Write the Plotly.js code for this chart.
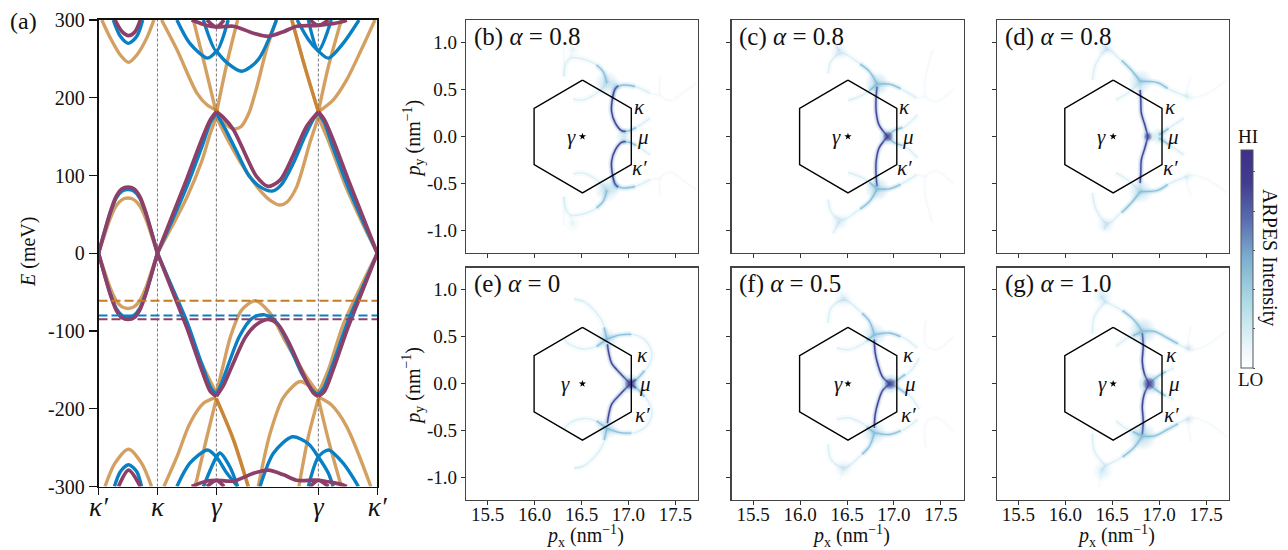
<!DOCTYPE html>
<html><head><meta charset="utf-8">
<script src="https://cdn.plot.ly/plotly-3.0.1.min.js"></script>
<style>html,body{margin:0;padding:0;background:#fff}</style></head>
<body><div id="g" style="width:1288px;height:550px"></div>
<script>
/* ---------- panel (a): band structure, [path position, E in meV] ---------- */
const pathTickVals=[0,1,2,3.73,4.73];
const pathTickText=["κ′","κ","γ","γ","κ′"];
const energyTickVals=[300,200,100,0,-100,-200,-300];
const energyTickText=["300","200","100","0","-100","-200","-300"];
const fermiTan=-61, fermiBlue=-80, fermiPurple=-85;

const tanUp1=[[0,0],[.1,23],[.2,45],[.3,61],[.4,69],[.5,71],[.6,69],[.7,61],[.8,45],[.9,23],[1,0]];
const tanUp2=[[1,0],[1.25,35],[1.5,72],[1.75,118],[1.9,155],[2,175]];
const tanUp3=[[2,175],[2.2,145],[2.4,118],[2.74,81],[2.95,66],[3.08,62],[3.2,66],[3.36,85],[3.59,143],[3.73,175]];
const tanUp4=[[3.73,175],[3.9,145],[4.2,85],[4.5,35],[4.73,0]];
const tanDn1=[[0,0],[.1,-23],[.2,-45],[.3,-61],[.4,-69],[.5,-71],[.6,-69],[.7,-61],[.8,-45],[.9,-23],[1,0]];
const tanDn2=[[1,0],[1.33,-60],[1.72,-137],[1.9,-165],[2,-180]];
const tanDn3=[[2,-180],[2.11,-146],[2.24,-107],[2.43,-73],[2.66,-61],[2.91,-77],[3.19,-116],[3.53,-159],[3.73,-180]];
const tanDn4=[[3.73,-180],[3.9,-150],[4.15,-92],[4.5,-35],[4.73,0]];
const tanHiA=[[.056,300],[.2,277],[.37,255],[.51,245.5],[.65,255],[.82,277],[.94,300]];
const tanHiB=[[1.07,300],[1.33,262],[1.67,206],[1.84,191],[2,184]];
const tanHiC=[[2,184],[2.12,170],[2.25,161],[2.33,160],[2.42,163],[2.55,180],[2.68,212],[2.85,262],[3.02,300]];
const tanHiD=[[1.61,300],[1.8,243],[2,180]];
const tanHiE=[[2,180],[2.18,245],[2.36,300]];
const tanHiF=[[3.28,300],[3.5,240],[3.73,182]];
const tanHiG=[[3.73,182],[3.9,240],[4.12,300]];
const tanHiH=[[3.73,182],[3.98,197],[4.21,223],[4.46,262],[4.69,300]];
const tanLoA=[[.11,-300],[.28,-270],[.51,-252],[.73,-270],[.9,-300]];
const tanLoB=[[1.11,-300],[1.33,-262],[1.55,-219],[1.78,-193],[2,-185]];
const tanLoC=[[1.64,-300],[1.84,-236],[2,-187]];
const tanLoD=[[2,-187],[2.29,-240],[2.54,-300]];
const tanLoE=[[2.71,-300],[2.91,-232],[3.14,-185],[3.42,-165],[3.59,-172],[3.73,-185]];
const tanLoF=[[3.4,-300],[3.56,-236],[3.73,-187]];
const tanLoG=[[3.73,-187],[3.9,-240],[4.12,-300]];
const tanLoH=[[3.73,-185],[3.95,-195],[4.21,-223],[4.62,-300]];

const blueUp1=[[0,0],[.1,27],[.2,52],[.3,71],[.4,80],[.5,82],[.6,80],[.7,71],[.8,52],[.9,27],[1,0]];
const blueUp2=[[1,0],[1.25,42],[1.5,86],[1.75,136],[1.9,168],[2,180]];
const blueUp3=[[2,180],[2.15,160],[2.35,130],[2.55,100],[2.75,85],[2.95,80],[3.1,88],[3.3,115],[3.5,150],[3.65,173],[3.73,180]];
const blueUp4=[[3.73,180],[3.83,168],[3.98,136],[4.23,86],[4.48,42],[4.73,0]];
const blueDn1=[[0,0],[.1,-27],[.2,-52],[.3,-71],[.4,-80],[.5,-82],[.6,-80],[.7,-71],[.8,-52],[.9,-27],[1,0]];
const blueDn2=[[1,0],[1.25,-44],[1.5,-88],[1.75,-142],[1.9,-172],[2,-182]];
const blueDn3=[[2,-182],[2.1,-165],[2.19,-146],[2.39,-107],[2.6,-84],[2.8,-79],[3,-87],[3.2,-113],[3.45,-155],[3.65,-178],[3.73,-182]];
const blueDn4=[[3.73,-182],[3.83,-172],[3.98,-142],[4.23,-88],[4.48,-44],[4.73,0]];
const blueHiA=[[.25,300],[.37,279],[.51,270],[.65,279],[.75,300]];
const blueHiB=[[1.33,300],[1.55,270],[1.85,251],[2,260]];
const blueHiC=[[2,260],[2.18,245],[2.43,234],[2.71,249],[3.02,300]];
const blueHiD=[[1.78,300],[2,260],[2.2,300]];
const blueHiE=[[3.37,300],[3.56,275],[3.73,260],[3.9,251],[4.15,270],[4.42,300]];
const blueHiF=[[3.56,300],[3.73,260],[3.95,300]];
const blueLoA=[[.27,-300],[.37,-281],[.51,-272],[.65,-281],[.73,-300]];
const blueLoB=[[1.33,-300],[1.55,-270],[1.85,-253],[2,-262],[2.18,-283],[2.36,-300]];
const blueLoC=[[1.78,-300],[2,-262],[2.06,-257],[2.23,-275],[2.36,-300]];
const blueLoD=[[2.74,-300],[2.97,-257],[3.29,-236],[3.56,-245],[3.73,-262],[3.9,-283],[3.98,-300]];
const blueLoE=[[3.56,-300],[3.73,-262],[3.9,-253],[4.15,-270],[4.41,-300]];

const purUp1=[[0,0],[.1,27],[.2,53],[.3,73],[.4,83],[.5,85],[.6,83],[.7,73],[.8,53],[.9,27],[1,0]];
const purUp2=[[1,0],[1.25,48],[1.5,96],[1.75,146],[1.9,172],[2,182]];
const purUp3=[[2,182],[2.1,176],[2.29,159],[2.51,124],[2.68,99],[2.88,86],[3.08,94],[3.31,127],[3.53,163],[3.73,182]];
const purUp4=[[3.73,182],[3.83,172],[3.98,146],[4.23,96],[4.48,48],[4.73,0]];
const purDn1=[[0,0],[.1,-27],[.2,-53],[.3,-73],[.4,-83],[.5,-85],[.6,-83],[.7,-73],[.8,-53],[.9,-27],[1,0]];
const purDn2=[[1,0],[1.25,-48],[1.5,-96],[1.75,-150],[1.9,-178],[2,-184]];
const purDn3=[[2,-184],[2.12,-170],[2.26,-146],[2.5,-107],[2.71,-90],[2.88,-85],[3.05,-92],[3.25,-118],[3.5,-160],[3.65,-180],[3.73,-184]];
const purDn4=[[3.73,-184],[3.83,-178],[3.98,-150],[4.23,-96],[4.48,-48],[4.73,0]];
const purHiA=[[.28,300],[.4,285],[.51,280],[.62,285],[.71,300]];
const purHiB=[[1.58,300],[1.84,293],[2,291],[2.29,292],[2.63,283],[2.88,279],[3.14,285],[3.36,292],[3.73,293],[4.15,298],[4.21,300]];
const purHiC=[[1.84,300],[2,291],[2.13,300]];
const purHiD=[[3.59,300],[3.73,293],[3.9,300]];
const purLoA=[[.34,-300],[.51,-279],[.71,-300]];
const purLoB=[[1.58,-300],[1.84,-293],[2,-292],[2.29,-293],[2.63,-283],[2.88,-279],[3.14,-285],[3.36,-292],[3.73,-292],[4.15,-298],[4.21,-300]];
const purLoC=[[1.84,-300],[2,-292],[2.13,-300]];
const purLoD=[[3.59,-300],[3.73,-292],[3.9,-300]];

const tanBands=[tanUp1,tanUp2,tanUp3,tanUp4,tanDn1,tanDn2,tanDn3,tanDn4,tanHiA,tanHiB,tanHiC,tanHiD,tanHiE,tanHiF,tanHiF,tanHiG,tanHiH,tanLoA,tanLoB,tanLoC,tanLoD,tanLoD,tanLoE,tanLoF,tanLoG,tanLoH];
const blueBands=[blueUp1,blueUp2,blueUp3,blueUp4,blueDn1,blueDn2,blueDn3,blueDn4,blueHiA,blueHiB,blueHiC,blueHiD,blueHiE,blueHiF,blueLoA,blueLoB,blueLoC,blueLoD,blueLoE];
const purpleBands=[purUp1,purUp2,purUp3,purUp4,purDn1,purDn2,purDn3,purDn4,purHiA,purHiB,purHiC,purHiD,purLoA,purLoB,purLoC,purLoD];

/* ---------- panels (b-g): intensity ridges, upper half [px, py], mirrored in py ---------- */
const hexX=[16.51,17.03,17.03,16.51,15.995,15.995,16.51];
const hexY=[0.6,0.3,-0.3,-0.6,-0.3,0.3,0.6];
const pxTickVals=[15.5,16,16.5,17,17.5], pxTickText=["15.5","16.0","16.5","17.0","17.5"];
const pyTickVals=[1,.5,0,-.5,-1], pyTickText=["1.0","0.5","0.0","-0.5","-1.0"];
const cbarTicks=[0,.18,.36,.54,.72,.9];

const bFaint=[[[17.23,.46],[17.07,.532],[16.93,.546],[16.86,.51],[16.83,.408],[16.82,.266],[16.86,.142],[16.93,.06],[17.0,.06],[17.11,.113],[17.23,.195]],
 [[16.77,.567],[16.73,.69],[16.63,.78],[16.485,.833],[16.38,.833],[16.33,.76],[16.315,.638]],[[16.77,.567],[16.66,.46],[16.52,.39],[16.41,.397]]];
const bMid=[[[17.07,.532],[16.93,.546],[16.86,.51],[16.83,.408]],[[16.93,.06],[17.0,.06],[17.08,.095]],[[16.77,.567],[16.73,.69],[16.66,.76]]];
const bDark=[[[16.89,.54],[16.86,.51],[16.83,.408],[16.82,.266],[16.86,.142],[16.93,.06],[16.97,.055]]];
const bGhost=[[[17.34,.638],[17.34,.443],[17.44,.38],[17.62,.496],[17.72,.567]],[[17.34,.443],[17.23,.46]],[[16.38,.833],[16.41,.94]],[[16.315,.638],[16.31,.95]]];
const bKnots=[[16.77,.567,24,.55],[16.95,0,16,.4],[16.41,.93,16,.15],[16.86,.54,14,.35]];

const cFaint=[[[16.935,0],[16.84,.124],[16.81,.266],[16.81,.426],[16.82,.557]],[[16.82,.557],[16.95,.557],[17.095,.496],[17.24,.408]],
 [[16.82,.557],[16.74,.69],[16.6,.8],[16.44,.887],[16.33,.8],[16.3,.67]],[[16.935,0],[17.0,.064],[17.11,.10],[17.25,.23]],[[16.82,.557],[16.67,.443],[16.51,.383]],[[16.42,.905],[16.35,1.03]]];
const cMid=[[[16.82,.557],[16.95,.557],[17.07,.51]],[[16.82,.557],[16.74,.69],[16.64,.77]],[[16.935,0],[17.0,.064],[17.09,.095]],[[16.82,.557],[16.74,.49]]];
const cDark=[[[16.935,0],[16.89,.05],[16.84,.124],[16.81,.266],[16.81,.426],[16.82,.53]]];
const cGhost=[[[17.34,.67],[17.34,.426],[17.45,.37],[17.63,.5]],[[17.34,.426],[17.24,.408]],[[17.41,.92],[17.34,.67]]];
const cKnots=[[16.82,.557,24,.7],[16.42,.905,18,.3],[16.935,0,18,.9]];

const dFaint=[[[16.88,0],[16.847,.124],[16.81,.248],[16.804,.39],[16.797,.496],[16.8,.585]],[[16.8,.585],[16.98,.574],[17.12,.496],[17.3,.425]],
 [[16.8,.585],[16.7,.71],[16.57,.833],[16.45,.922],[16.33,.78],[16.29,.6]],[[17.0,.017],[17.12,.1],[17.265,.195]],[[16.8,.585],[16.66,.46],[16.54,.39]],[[16.45,.922],[16.41,.99]]];
const dMid=[[[16.8,.585],[16.98,.574],[17.09,.51]],[[16.8,.585],[16.7,.71],[16.6,.81]],[[17.0,.017],[17.1,.085]]];
const dDark=[[[16.88,0],[16.847,.124],[16.81,.248],[16.804,.39],[16.797,.496]]];
const dGhost=[[[17.34,.64],[17.3,.425],[17.48,.443],[17.72,.6]]];
const dKnots=[[16.8,.585,24,.6],[17.0,0,18,.5],[16.43,.94,18,.3],[17.31,.425,12,.2],[16.88,0,14,.85]];

const eFaint=[[[17.02,0],[16.91,.113],[16.82,.22],[16.79,.326],[16.77,.475],[16.73,.645],[16.645,.77],[16.52,.876],[16.42,.9]],
 [[16.77,.475],[16.91,.52],[17.07,.52],[17.19,.45],[17.25,.31],[17.21,.184],[17.1,.06],[17.02,0]],[[16.77,.475],[16.66,.397],[16.52,.369],[16.38,.415],[16.31,.486]]];
const eMid=[[[16.77,.475],[16.91,.52],[17.03,.525]],[[17.17,.14],[17.1,.06],[17.02,0]],[[16.77,.475],[16.74,.6]],[[16.77,.475],[16.66,.397]]];
const eDark=[[[17.02,0],[16.91,.113],[16.82,.22],[16.79,.326],[16.775,.42]],[[17.02,0],[17.08,.045]]];
const eGhost=[[[16.52,.876],[16.42,.9]]];
const eKnots=[[16.77,.475,22,.55],[17.02,0,20,1]];

const fFaint=[[[16.96,0],[16.88,.07],[16.83,.2],[16.8,.326],[16.79,.52]],[[16.79,.52],[16.95,.54],[17.11,.486],[17.25,.38]],
 [[16.79,.52],[16.74,.663],[16.62,.787],[16.47,.894],[16.33,.805],[16.3,.645]],[[16.96,0],[17.04,.043],[17.17,.13],[17.27,.273]],[[16.79,.52],[16.65,.415],[16.51,.362],[16.39,.38]]];
const fMid=[[[16.79,.52],[16.95,.54],[17.07,.5]],[[16.79,.52],[16.74,.663],[16.66,.75]],[[16.96,0],[17.04,.043],[17.12,.1]],[[16.79,.52],[16.71,.46]]];
const fDark=[[[16.96,0],[16.88,.07],[16.83,.2],[16.8,.326],[16.79,.47]]];
const fGhost=[[[17.34,.68],[17.34,.415],[17.45,.362],[17.63,.5]],[[16.47,.894],[16.42,1.02]]];
const fKnots=[[16.79,.52,24,.6],[16.96,0,20,1],[16.46,.9,18,.3]];

const gFaint=[[[16.893,0],[16.84,.113],[16.82,.238],[16.83,.397],[16.82,.557]],[[16.82,.557],[16.945,.557],[17.09,.486],[17.265,.39],[17.32,.37]],
 [[16.82,.557],[16.73,.68],[16.59,.787],[16.43,.876],[16.38,.93]],[[16.893,0],[16.96,.06],[17.07,.13],[17.16,.167]],[[16.82,.557],[16.66,.486],[16.54,.397]],[[16.43,.876],[16.31,.716],[16.29,.53]]];
const gMid=[[[16.82,.557],[16.945,.557],[17.09,.486],[17.2,.425]],[[16.82,.557],[16.73,.68],[16.61,.78]],[[16.893,0],[16.96,.06],[17.07,.13]],[[16.82,.557],[16.72,.51]]];
const gDark=[[[16.893,0],[16.84,.113],[16.82,.238],[16.83,.397],[16.82,.54]]];
const gGhost=[[[17.34,.61],[17.32,.37],[17.48,.397],[17.72,.567]],[[16.38,.93],[16.36,1.1]]];
const gKnots=[[16.82,.557,28,.76],[16.893,0,22,1],[16.4,.93,20,.35],[17.32,.38,12,.22]];

const panelNames=["(b)","(c)","(d)","(e)","(f)","(g)"];
const panelAlpha=["0.8","0.8","0.8","0","0.5","1.0"];
const panelLeft=[466,731.5,996.7,466,731.5,996.7];
const kappaX=[17.12,17.11,17.12,17.15,17.15,17.13];
const muX=[17.15,17.15,17.15,17.18,17.17,17.16];
const gammaX=[16.39,16.39,16.39,16.33,16.41,16.40];
const colorStops=[[0,"#ffffff"],[.1,"#eaf5f9"],[.3,"#aedbe6"],[.5,"#7db0d0"],[.68,"#5a6db0"],[.85,"#423c90"],[1,"#3c3187"]];

const W=1288,H=550;
const darkLayers=[[6,"rgba(120,170,215,.16)"],[3,"rgba(85,95,175,.3)"],[1.4,"rgba(62,52,144,.9)"]];
const midLayers=[[6,"rgba(140,200,225,.12)"],[3,"rgba(125,190,220,.22)"],[1.3,"rgba(115,180,214,.65)"]];
const faintLayers=[[6,"rgba(200,230,241,.16)"],[1.4,"rgba(180,222,237,.42)"]];
const ghostLayers=[[4,"rgba(225,240,246,.1)"],[1.1,"rgba(225,240,246,.32)"]];
const knotScales=[1,.85,.7,.56,.44,.32,.22];

const data=[];
const xs=p=>p.map(q=>q[0]), ys=p=>p.map(q=>q[1]);
function addV(x){data.push({x:[x,x],y:[-300,300],mode:"lines",line:{color:"#777",width:1,dash:"3px,2px"},xaxis:"x",yaxis:"y",hoverinfo:"skip"});}
pathTickVals.slice(1,4).forEach(addV);
function addBands(list,color,w){list.forEach(b=>data.push({x:xs(b),y:ys(b),mode:"lines",line:{color:color,width:w,shape:"spline",smoothing:.8},xaxis:"x",yaxis:"y",hoverinfo:"skip"}));}
addBands(tanBands,"rgba(196,124,37,.72)",3.4);
addBands(blueBands,"#0a80c4",3.4);
addBands(purpleBands,"#8e3f69",3.7);
[[fermiTan,"#c47c25"],[fermiBlue,"#0a80c4"],[fermiPurple,"#8e3f69"]].forEach(f=>data.push({x:[0,4.73],y:[f[0],f[0]],mode:"lines",line:{color:f[1],width:2,dash:"9px,4px"},xaxis:"x",yaxis:"y",hoverinfo:"skip"}));

function ridge(lines,layers,ax,ay){
  let X=[],Y=[];
  lines.forEach(l=>{X=X.concat(xs(l),[null]);Y=Y.concat(ys(l),[null]);X=X.concat(xs(l),[null]);Y=Y.concat(ys(l).map(v=>-v),[null]);});
  layers.forEach(L=>data.push({x:X,y:Y,mode:"lines",line:{color:L[1],width:L[0],shape:"spline",smoothing:1},xaxis:ax,yaxis:ay,hoverinfo:"skip"}));
}
function knots(list,ax,ay){
  const K=list.filter(k=>k[1]!==0).concat(list.map(k=>[k[0],-k[1],k[2],k[3]]));
  knotScales.forEach(f=>data.push({x:K.map(k=>k[0]),y:K.map(k=>k[1]),mode:"markers",
    marker:{size:K.map(k=>k[2]*f),color:K.map(k=>(k[3]>.8&&f<.6?"rgba(62,52,144,"+(k[3]*.38).toFixed(3):"rgba(125,190,220,"+(k[3]*.15).toFixed(3))+")"),line:{width:0}},xaxis:ax,yaxis:ay,hoverinfo:"skip"}));
}
const sets=[[bGhost,bFaint,bMid,bDark,bKnots],[cGhost,cFaint,cMid,cDark,cKnots],[dGhost,dFaint,dMid,dDark,dKnots],[eGhost,eFaint,eMid,eDark,eKnots],[fGhost,fFaint,fMid,fDark,fKnots],[gGhost,gFaint,gMid,gDark,gKnots]];
sets.forEach((s,i)=>{
  const ax="x"+(i+2), ay="y"+(i+2);
  ridge(s[0],ghostLayers,ax,ay);
  ridge(s[1],faintLayers,ax,ay);
  ridge(s[2],midLayers,ax,ay);
  ridge(s[3],darkLayers,ax,ay);
  knots(s[4],ax,ay);
  data.push({x:hexX,y:hexY,mode:"lines",line:{color:"#000",width:1.4},xaxis:ax,yaxis:ay,hoverinfo:"skip"});
  data.push({x:[16.51],y:[0],mode:"markers",marker:{symbol:"star",size:5.5,color:"#000",line:{width:0}},xaxis:ax,yaxis:ay,hoverinfo:"skip"});
});
/* colour bar */
data.push({type:"heatmap",z:[[0,1],[1,0]],x:[100,101],y:[100,101],zmin:0,zmax:1,colorscale:colorStops,xaxis:"x7",yaxis:"y7",hoverinfo:"skip",
  colorbar:{x:1241/W,xanchor:"left",y:1-368/H,yanchor:"bottom",lenmode:"pixels",len:218,thicknessmode:"pixels",thickness:11.7,xpad:0,ypad:0,
    outlinecolor:"#555",outlinewidth:1,tickmode:"array",tickvals:cbarTicks,showticklabels:false,ticks:"outside",ticklen:2,tickcolor:"#555"}});

const serif="Liberation Serif";
const layout={width:W,height:H,margin:{l:0,r:0,t:0,b:0},paper_bgcolor:"#fff",plot_bgcolor:"#fff",showlegend:false,font:{family:serif,color:"#111"},annotations:[],
 xaxis:{domain:[98.5/W,377.3/W],range:[0,4.73],tickmode:"array",tickvals:pathTickVals,ticktext:pathTickText.map(t=>"<i>"+t+"</i>"),tickfont:{size:27,family:serif},ticks:"outside",ticklen:7,tickwidth:1.5,tickcolor:"#111",ticklabelstandoff:-12,showline:true,mirror:true,linecolor:"#111",linewidth:1.8,showgrid:false,zeroline:false,anchor:"y"},
 yaxis:{domain:[1-486.5/H,1-20/H],range:[-300,300],tickmode:"array",tickvals:energyTickVals,ticktext:energyTickText,tickfont:{size:20,family:serif},ticks:"outside",ticklen:8,tickwidth:1.3,tickcolor:"#111",showline:true,mirror:true,linecolor:"#111",linewidth:1.8,showgrid:false,zeroline:false,anchor:"x"}
};
const note=(t,X,Y,size,extra)=>layout.annotations.push(Object.assign({xref:"paper",yref:"paper",x:X/W,y:1-Y/H,xanchor:"center",yanchor:"middle",showarrow:false,text:t,font:{size:size,family:serif}},extra||{}));
note("(a)",8,21,24,{xanchor:"left"});
note("<i>E</i> (meV)",28,252,20,{textangle:-90});
panelNames.forEach((n,i)=>{
  const id=i+2, left=panelLeft[i], row=i<3?0:1, col=i%3;
  const top=row?267.5:20, bot=row?500:253;
  const half=(bot-top)/2/94;
  layout["xaxis"+id]={domain:[left/W,(left+232)/W],range:[15.27,17.74],tickmode:"array",tickvals:pxTickVals,ticktext:pxTickText,showticklabels:row===1,tickfont:{size:19,family:serif},ticks:"outside",ticklen:4,tickwidth:1,tickcolor:"#333",ticklabelstandoff:-7,showline:true,mirror:true,linecolor:"#444",linewidth:1.2,showgrid:false,zeroline:false,anchor:"y"+id};
  layout["yaxis"+id]={domain:[1-bot/H,1-top/H],range:[-half,half],tickmode:"array",tickvals:pyTickVals,ticktext:pyTickText,showticklabels:col===0,tickfont:{size:19,family:serif},ticks:"outside",ticklen:4,tickwidth:1,tickcolor:"#333",showline:true,mirror:true,linecolor:"#444",linewidth:1.2,showgrid:false,zeroline:false,anchor:"x"+id};
  if(row) note("<i>p</i><sub>x</sub> (nm<sup>−1</sup>)",left+119,535.5,20);
  if(col===0) note("<i>p</i><sub>y</sub> (nm<sup>−1</sup>)",413,(top+bot)/2+2,20,{textangle:-90});
  note(n+" <i>α</i> = "+panelAlpha[i],left+6,top+17,25,{xanchor:"left"});
  const lab=(t,x,y)=>layout.annotations.push({xref:"x"+id,yref:"y"+id,x:x,y:y,xanchor:"center",yanchor:"middle",showarrow:false,text:"<i>"+t+"</i>",font:{size:21,family:serif}});
  lab("κ",kappaX[i],.31);lab("μ",muX[i],0);lab("κ′",kappaX[i],-.33);lab("γ",gammaX[i],0);
});
note("HI",1248,137,19);
note("LO",1250,379,19);
note("ARPES Intensity",1270,257,20,{textangle:90});
Plotly.newPlot("g",data,layout,{displayModeBar:false,staticPlot:true});
</script></body></html>
